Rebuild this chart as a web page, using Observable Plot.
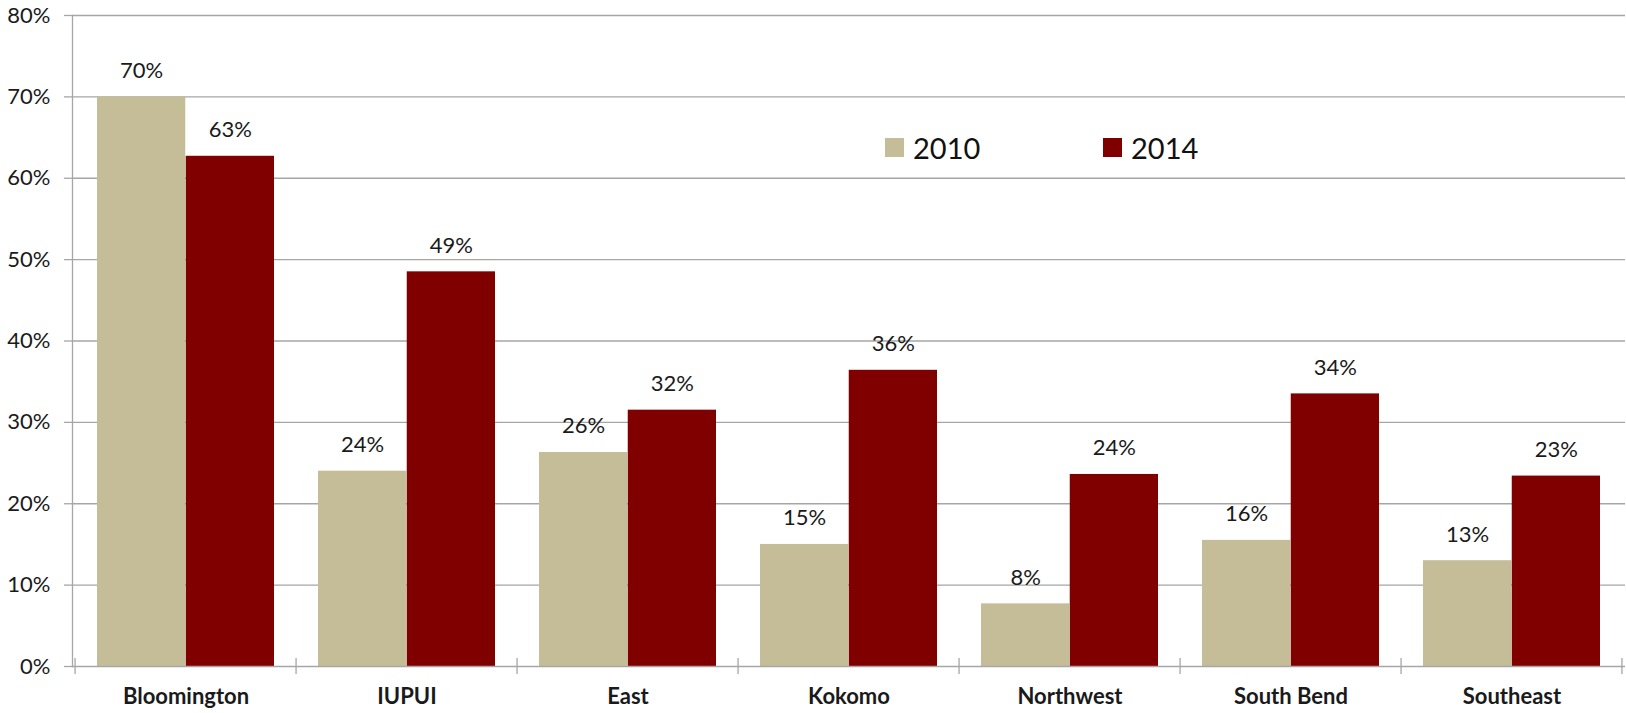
<!DOCTYPE html>
<html>
<head>
<meta charset="utf-8">
<script src="https://cdn.jsdelivr.net/npm/d3@7"></script>
<script src="https://cdn.jsdelivr.net/npm/@observablehq/plot@0.6"></script>
<style>
  html, body { margin: 0; padding: 0; background: #fff; }
  #wrap { position: relative; width: 1626px; height: 713px; font-family: Lato, "Open Sans", sans-serif; }
  .leg { position: absolute; display: flex; align-items: center; font-size: 29px; color: #111; }
  .sw { width: 19px; height: 19px; margin-right: 9px; }
</style>
</head>
<body>
<div id="wrap"></div>
<script>
const campuses = ["Bloomington", "IUPUI", "East", "Kokomo", "Northwest", "South Bend", "Southeast"];
const values2010 = [70.0, 24.0, 26.3, 15.0, 7.7, 15.5, 13.0];
const values2014 = [62.7, 48.5, 31.5, 36.4, 23.6, 33.5, 23.4];
const years = ["2010", "2014"];
const colors = ["#C4BD97", "#800000"];
const yTicks = [0, 10, 20, 30, 40, 50, 60, 70, 80];

const data2010 = campuses.map((c, i) => ({campus: c, year: years[0], value: values2010[i]}));
const data2014 = campuses.map((c, i) => ({campus: c, year: years[1], value: values2014[i]}));

const W = 1626, H = 713;
const mL = 72, mR = 1, mT = 15, mB = 47;
const step = (W - mL - mR) / campuses.length;
const bw = step * 0.8;

const fs = 22;
const textColor = "#1a1a1a";
const gridColor = "#a6a6a6";

const chart = Plot.plot({
  width: W,
  height: H,
  marginLeft: mL,
  marginRight: mR,
  marginTop: mT,
  marginBottom: mB,
  style: {fontFamily: "Lato, 'Open Sans', sans-serif", color: textColor, background: "#fff"},
  x: {domain: campuses, paddingInner: 0.2, paddingOuter: 0.1, axis: null},
  y: {domain: [0, 80], axis: null},
  marks: [
    Plot.gridY(yTicks.filter(d => d > 0), {stroke: gridColor, strokeOpacity: 1, strokeWidth: 1.3}),
    Plot.barY(data2010, {x: "campus", y: "value", fill: colors[0], insetRight: bw / 2}),
    Plot.barY(data2014, {x: "campus", y: "value", fill: colors[1], insetLeft: bw / 2}),
    Plot.text(data2010, {x: "campus", y: "value", text: d => Math.round(d.value) + "%", dx: -bw / 4, dy: -19, lineAnchor: "bottom", fontSize: fs, fill: textColor}),
    Plot.text(data2014, {x: "campus", y: "value", text: d => Math.round(d.value) + "%", dx: bw / 4, dy: -19, lineAnchor: "bottom", fontSize: fs, fill: textColor}),
    Plot.ruleY([0], {stroke: gridColor, strokeWidth: 1.3}),
    Plot.frame({anchor: "left", stroke: gridColor, strokeWidth: 1.3}),
    Plot.axisY({ticks: yTicks, tickSize: 8, tickPadding: 14, tickFormat: d => d + "%", fontSize: fs, label: null, stroke: gridColor, strokeWidth: 1.3, fill: textColor}),
    Plot.axisX({ticks: campuses, tickSize: 0, tickPadding: 22, fontSize: fs, fontWeight: "bold", label: null, fill: textColor}),
    Plot.axisX({ticks: campuses, tickSize: 16, dx: -step / 2, dy: -8, tickFormat: () => "", label: null, stroke: gridColor, strokeWidth: 1.3}),
    Plot.axisX({ticks: campuses.slice(-1), tickSize: 16, dx: step / 2 - 1, dy: -8, tickFormat: () => "", label: null, stroke: gridColor, strokeWidth: 1.3})
  ]
});

const wrap = document.getElementById("wrap");
wrap.appendChild(chart);

const legendPos = [{left: 885, top: 130}, {left: 1103, top: 130}];
years.forEach((y, i) => {
  const d = document.createElement("div");
  d.className = "leg";
  d.style.left = legendPos[i].left + "px";
  d.style.top = legendPos[i].top + "px";
  d.innerHTML = `<div class="sw" style="background:${colors[i]}"></div><span>${y}</span>`;
  wrap.appendChild(d);
});
</script>
</body>
</html>
